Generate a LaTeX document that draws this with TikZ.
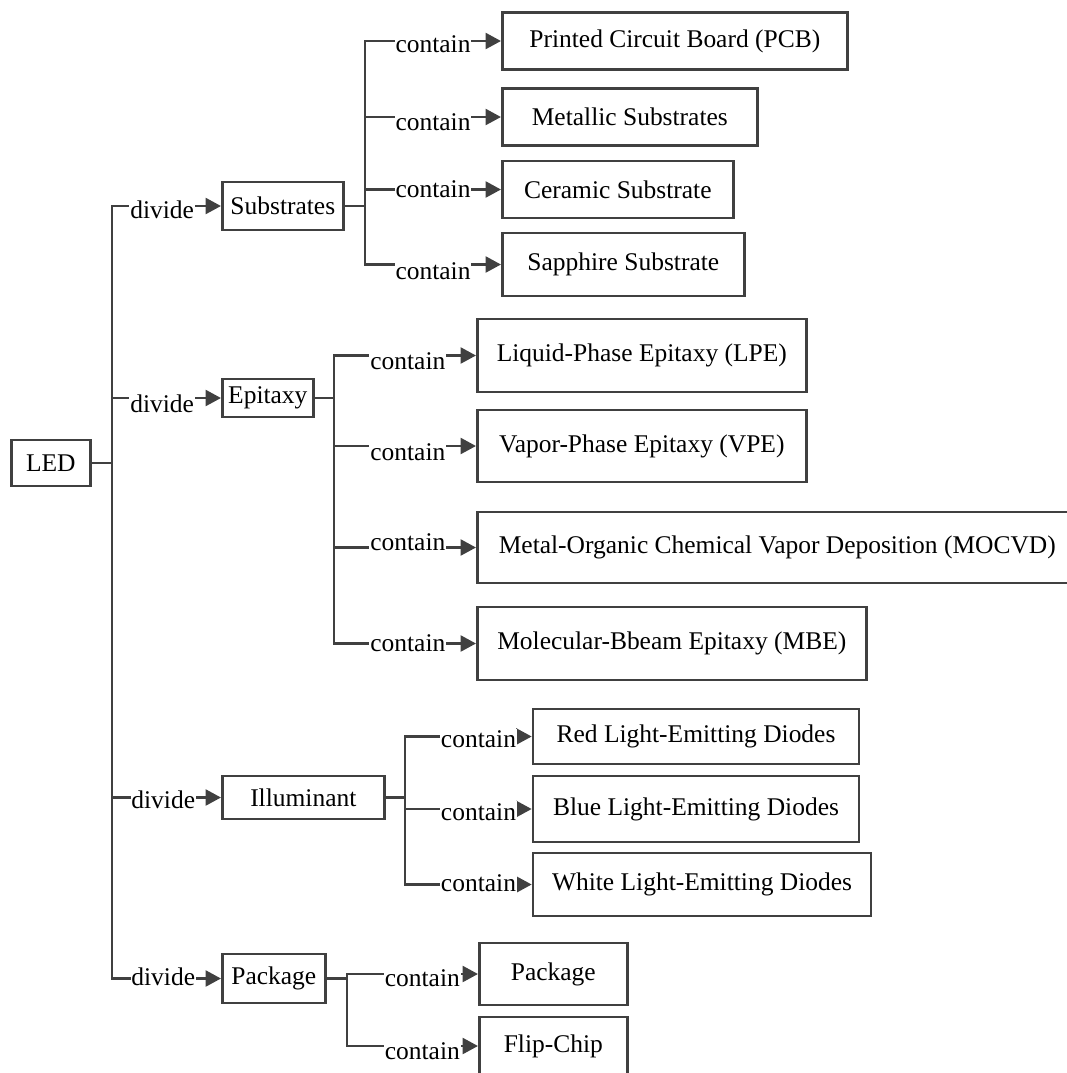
\documentclass[tikz,border=0pt]{standalone}
\usepackage{fontspec}
\setmainfont{Liberation Serif}
\usetikzlibrary{arrows.meta}
\definecolor{lnc}{RGB}{64,64,64}

\begin{document}
\begin{tikzpicture}[
	x=0.02cm, y=-0.02cm,
	font=\fontsize{14.5}{17}\selectfont,
	ln/.style={ draw=lnc, line width=1.5pt, line cap=rect },
	arr/.style={ ln, -{Triangle[length=0.31cm,width=0.32cm]} },
	box/.style 2 args={ draw=lnc, line width=1.5pt, anchor=west, inner sep=0pt, minimum width=#1*0.02cm, minimum height=#2*0.02cm },
	lbl/.style={ fill=white, inner xsep=0.5pt, inner ysep=1pt, anchor=base, yshift=-#1*0.02cm }
]

\useasboundingbox (0,0) rectangle (1067,1073);

% root and first level
\node at (10,463) (led) [box={79}{46}] {LED};
\node at (221,206) (sub) [box={121}{48}] {Substrates};
\node at (221,398) (epi) [box={91}{38}] {Epitaxy};
\node at (221,797.5) (ill) [box={162}{43}] {Illuminant};
\node at (221,978.5) (pkg) [box={103}{49}] {Package};

\coordinate (ttop) at (112,206);
\draw[ln] (ttop) -- (ttop |- pkg.west);
\draw[ln] (led.east) -- (led.east -| ttop);
\draw[arr] (ttop) -- node[lbl=12,pos=.46] (dsub) {divide} (sub.west);
\draw[arr] (ttop |- epi.west) -- node[lbl=14,pos=.46] (depi) {divide} (epi.west);
\draw[arr] (ttop |- ill.west) -- node[lbl=11,pos=.47] (dill) {divide} (ill.west);
\draw[arr] (ttop |- pkg.west) -- node[lbl=7,pos=.47] (dpkg) {divide} (pkg.west);

% substrates
\node at (501,41) (s1) [box={345}{57}] {Printed Circuit Board (PCB)};
\node at (501,117) (s2) [box={255}{57}] {Metallic Substrates};
\node at (501,189.5) (s3) [box={231}{57}] {Ceramic Substrate};
\node at (501,264.5) (s4) [box={242}{63}] {Sapphire Substrate};
\coordinate (js) at (365,206);
\draw[ln] (sub.east) -- (js);
\draw[ln] (js |- s1.west) -- (js |- s4.west);
\foreach \c/\b in {s1/11,s2/13,s3/8,s4/15}
	\draw[arr] (js |- \c.west) -- node[lbl=\b] (l\c) {contain} (\c.west);

% epitaxy
\node at (476,355.5) (e1) [box={329}{73}] {Liquid-Phase Epitaxy (LPE)};
\node at (476,446) (e2) [box={329}{72}] {Vapor-Phase Epitaxy (VPE)};
\node at (476,547.5) (e3) [box={600}{71}] {Metal-Organic Chemical Vapor Deposition (MOCVD)};
\node at (476,643.5) (e4) [box={389}{73}] {Molecular-Bbeam Epitaxy (MBE)};
\coordinate (je) at (334,398);
\draw[ln] (epi.east) -- (je);
\draw[ln] (je |- e1.west) -- (je |- e4.west);
\foreach \c/\b in {e1/14,e2/14,e3/3,e4/8}
	\draw[arr] (je |- \c.west) -- node[lbl=\b,pos=.52] (l\c) {contain} (\c.west);

% illuminant
\node at (531.7,736.5) (i1) [box={326}{55}] {Red Light-Emitting Diodes};
\node at (531.7,809) (i2) [box={326}{66}] {Blue Light-Emitting Diodes};
\node at (531.7,884.5) (i3) [box={338}{63}] {White Light-Emitting Diodes};
\coordinate (ji) at (405,797.5);
\draw[ln] (ill.east) -- (ji);
\draw[ln] (ji |- i1.west) -- (ji |- i3.west);
\foreach \c/\b in {i1/11,i2/11,i3/7}
	\draw[arr] (ji |- \c.west) -- node[lbl=\b,pos=.58] (l\c) {contain} (\c.west);

% package
\node at (478,974) (p1) [box={148}{62}] {Package};
\node at (478,1046) (p2) [box={148}{58}] {Flip-Chip};
\coordinate (jp) at (347,978.5);
\draw[ln] (pkg.east) -- (jp);
\draw[ln] (jp |- p1.west) -- (jp |- p2.west);
\foreach \c/\b in {p1/12,p2/13}
	\draw[arr] (jp |- \c.west) -- node[lbl=\b,pos=.575] (l\c) {contain} (\c.west);

\end{tikzpicture}
\end{document}
